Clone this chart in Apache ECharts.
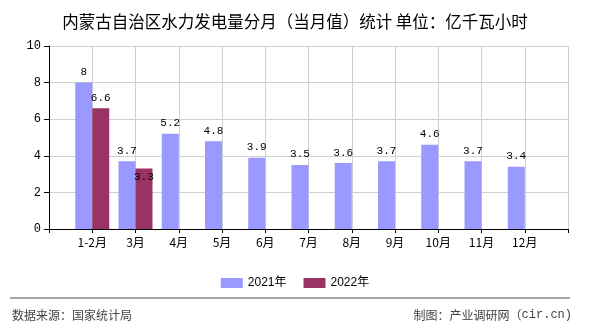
<!DOCTYPE html>
<html>
<head>
<meta charset="utf-8">
<script src="https://cdn.jsdelivr.net/npm/echarts@6/dist/echarts.min.js"></script>
<style>
  html, body { margin: 0; padding: 0; background: #fff; }
  #chart { width: 590px; height: 330px; }
</style>
</head>
<body>
<div id="chart"></div>
<script>
// Month categories and monthly hydropower output (亿千瓦小时)
const months = ['1-2月', '3月', '4月', '5月', '6月', '7月', '8月', '9月', '10月', '11月', '12月'];
const values2021 = [8, 3.7, 5.2, 4.8, 3.9, 3.5, 3.6, 3.7, 4.6, 3.7, 3.4];
const values2022 = [6.6, 3.3, null, null, null, null, null, null, null, null, null];
const seriesNames = ['2021年', '2022年'];
const yTicks = { min: 0, max: 10, interval: 2 };

const CJK = '"Noto Sans CJK SC", sans-serif';
const MONO = '"Liberation Mono", "DejaVu Sans Mono", monospace';

// Pad the axis with an empty slot at each end so bars sit on the tick points
const axisData = [''].concat(months, ['']);
const pad = arr => ['-'].concat(arr.map(v => (v === null ? '-' : v)), ['-']);

// The second 2022 value is labelled just inside its bar
const data2022 = pad(values2022).map((v, i) =>
  i === 2 ? { value: v, label: { position: 'insideTop', distance: 3 } } : v);

const chart = echarts.init(document.getElementById('chart'));
chart.setOption({
  animation: false,
  backgroundColor: '#fff',
  title: {
    text: '内蒙古自治区水力发电量分月（当月值）统计 单位：亿千瓦小时',
    left: 'center',
    top: 8,
    textStyle: { fontFamily: CJK, fontSize: 16.5, fontWeight: 'normal', color: '#000' }
  },
  legend: {
    data: seriesNames,
    left: 'center',
    top: 272,
    itemWidth: 22,
    itemHeight: 10,
    itemGap: 17,
    icon: 'rect',
    textStyle: { fontFamily: '"Liberation Sans", Arial, ' + CJK, fontSize: 12, color: '#000' }
  },
  grid: { left: 49, right: 22, top: 46, bottom: 101, containLabel: false },
  xAxis: {
    type: 'category',
    data: axisData,
    boundaryGap: false,
    axisLine: { lineStyle: { color: '#000', width: 1 } },
    axisTick: { show: true, interval: 0, length: 4, lineStyle: { color: '#000' } },
    axisLabel: { interval: 0, margin: 7, color: '#000', fontFamily: CJK, fontSize: 12 },
    splitLine: { show: true, interval: 0, lineStyle: { color: '#d0d0d0', width: 1 } }
  },
  yAxis: {
    type: 'value',
    min: yTicks.min,
    max: yTicks.max,
    interval: yTicks.interval,
    axisLine: { show: true, lineStyle: { color: '#000', width: 1 } },
    axisTick: { show: true, length: 5, lineStyle: { color: '#000' } },
    axisLabel: { margin: 8, color: '#000', fontFamily: MONO, fontSize: 12 },
    splitLine: { show: true, lineStyle: { color: '#d0d0d0', width: 1 } }
  },
  series: [
    {
      name: seriesNames[0],
      type: 'bar',
      data: pad(values2021),
      barWidth: 17,
      barGap: '0%',
      itemStyle: { color: '#9999ff' },
      label: { show: true, position: 'top', distance: 5, color: '#000', fontFamily: MONO, fontSize: 11 }
    },
    {
      name: seriesNames[1],
      type: 'bar',
      data: data2022,
      barWidth: 17,
      barGap: '0%',
      itemStyle: { color: '#993366' },
      label: { show: true, position: 'top', distance: 5, color: '#000', fontFamily: MONO, fontSize: 11 }
    }
  ],
  graphic: [
    {
      type: 'line',
      shape: { x1: 10, y1: 298, x2: 570, y2: 298 },
      style: { stroke: '#888', lineWidth: 1.5 }
    },
    {
      type: 'text',
      left: 12,
      top: 309,
      style: { text: '数据来源：国家统计局', fill: '#444', font: '12px "Noto Sans CJK SC", sans-serif' }
    },
    {
      type: 'text',
      right: 18,
      top: 309,
      style: {
        text: '{a|制图：产业调研网（}{b|cir.cn)}',
        rich: {
          a: { fill: '#444', fontFamily: CJK, fontSize: 12 },
          b: { fill: '#444', fontFamily: MONO, fontSize: 12 }
        }
      }
    }
  ]
});
</script>
</body>
</html>
